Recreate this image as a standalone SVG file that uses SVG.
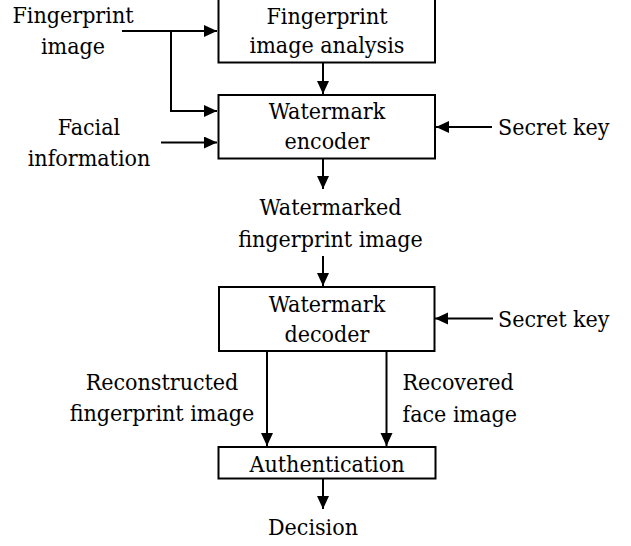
<svg xmlns="http://www.w3.org/2000/svg" width="631" height="546" viewBox="0 0 631 546">
  <style>
    .box { fill: #fff; stroke: #000; stroke-width: 2; }
    .wire { fill: none; stroke: #000; stroke-width: 2; }
    .c { text-anchor: middle; }
  </style>
  <defs>
    <marker id="arrow" markerUnits="userSpaceOnUse" markerWidth="14" markerHeight="13" refX="13" refY="6" orient="auto">
      <path d="M0,0 L13,6 L0,12 z" fill="#000"/>
    </marker>
  </defs>
  <rect width="631" height="546" fill="#fff"/>

  <g id="connectors">
    <!-- fingerprint image input, split to analysis and encoder -->
    <path class="wire" d="M122,31 H217" marker-end="url(#arrow)"/>
    <path class="wire" d="M171,31 V111 H217" marker-end="url(#arrow)"/>
    <!-- facial information input -->
    <path class="wire" d="M161,142.5 H217" marker-end="url(#arrow)"/>
    <!-- analysis to encoder -->
    <path class="wire" d="M323,63 V94" marker-end="url(#arrow)"/>
    <!-- secret key into encoder -->
    <path class="wire" d="M492,127 H436" marker-end="url(#arrow)"/>
    <!-- encoder output -->
    <path class="wire" d="M323,158 V189" marker-end="url(#arrow)"/>
    <!-- watermarked image into decoder -->
    <path class="wire" d="M323,256 V286" marker-end="url(#arrow)"/>
    <!-- secret key into decoder -->
    <path class="wire" d="M493,318.5 H435" marker-end="url(#arrow)"/>
    <!-- decoder outputs to authentication -->
    <path class="wire" d="M267,351 V446" marker-end="url(#arrow)"/>
    <path class="wire" d="M386.5,351 V446" marker-end="url(#arrow)"/>
    <!-- decision -->
    <path class="wire" d="M323,478 V509" marker-end="url(#arrow)"/>
  </g>

  <g font-family="DejaVu Serif Condensed, DejaVu Serif, serif" font-stretch="condensed" font-size="23" fill="#000">
    <g id="analysis">
      <rect class="box" x="218.5" y="-3" width="216.5" height="65.5"/>
      <text class="c" x="327" y="24">Fingerprint</text>
      <text class="c" x="327" y="53">image analysis</text>
    </g>

    <g id="encoder">
      <rect class="box" x="218.5" y="95" width="216.5" height="63.5"/>
      <text class="c" x="327" y="119">Watermark</text>
      <text class="c" x="327" y="149">encoder</text>
    </g>

    <g id="decoder">
      <rect class="box" x="219" y="287" width="215.5" height="64"/>
      <text class="c" x="327" y="312">Watermark</text>
      <text class="c" x="327" y="342">decoder</text>
    </g>

    <g id="authentication">
      <rect class="box" x="218.5" y="447" width="217" height="31.5"/>
      <text class="c" x="327" y="472">Authentication</text>
    </g>

    <g id="labels">
      <text class="c" x="73" y="23">Fingerprint</text>
      <text class="c" x="73" y="54">image</text>
      <text class="c" x="89" y="135">Facial</text>
      <text class="c" x="89" y="166">information</text>
      <text x="498" y="135">Secret key</text>
      <text class="c" x="330.5" y="215">Watermarked</text>
      <text class="c" x="330.5" y="247">fingerprint image</text>
      <text x="498" y="327">Secret key</text>
      <text class="c" x="162" y="390">Reconstructed</text>
      <text class="c" x="162" y="421">fingerprint image</text>
      <text x="402.5" y="390">Recovered</text>
      <text x="402.5" y="421.5">face image</text>
      <text class="c" x="313" y="535">Decision</text>
    </g>
  </g>
</svg>
